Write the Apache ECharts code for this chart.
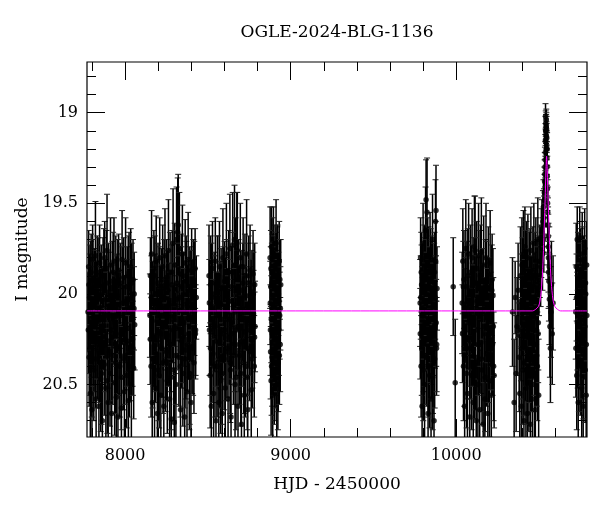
<!DOCTYPE html>
<html><head><meta charset="utf-8">
<script src="https://cdn.jsdelivr.net/npm/echarts@6/dist/echarts.min.js"></script>
<style>html,body{margin:0;padding:0;background:#fff}#c{width:600px;height:512px}</style>
</head><body><div id="c"></div>
<script>
// ---- data: [HJD-2450000, I mag, error] ----
const season1 = [[7776,20.10,0.22],[7780,19.85,0.20],[7783,20.35,0.27],[7786,20.02,0.24],[7790,20.55,0.30],[7793,19.92,0.21],[7797,20.21,0.25],[7800,20.64,0.33],[7804,19.81,0.19],[7807,20.13,0.23],[7811,20.42,0.28],[7814,19.97,0.22],[7818,20.28,0.26],[7821,19.79,0.30],[7825,20.58,0.31],[7828,20.05,0.23],[7832,19.88,0.20],[7835,20.31,0.27],[7839,20.15,0.24],[7842,20.62,0.32],[7846,19.83,0.21],[7849,20.08,0.23],[7853,20.47,0.29],[7856,19.95,0.22],[7860,20.24,0.25],[7863,20.70,0.34],[7867,19.90,0.21],[7870,20.18,0.24],[7874,20.39,0.28],[7877,19.80,0.20],[7881,20.03,0.22],[7884,20.52,0.30],[7888,19.86,0.21],[7891,19.76,0.31],[7895,20.26,0.26],[7898,20.60,0.32],[7902,19.99,0.22],[7905,20.12,0.24],[7909,20.44,0.29],[7912,19.84,0.26],[7916,20.20,0.25],[7919,20.66,0.33],[7923,19.93,0.22],[7926,20.34,0.27],[7930,20.07,0.23],[7933,19.82,0.24],[7937,20.49,0.29],[7940,20.16,0.24],[7944,19.89,0.21],[7947,20.57,0.31],[7951,20.01,0.23],[7954,20.29,0.26],[7957,20.68,0.30],[7961,19.87,0.20],[7964,20.10,0.23],[7968,20.40,0.28],[7971,19.94,0.22],[7975,20.22,0.25],[7978,20.63,0.33],[7982,19.81,0.27],[7985,20.05,0.23],[7989,20.36,0.28],[7992,19.91,0.22],[7996,20.54,0.30],[7999,20.14,0.24],[8003,19.83,0.25],[8006,20.27,0.26],[8010,20.45,0.29],[8013,19.96,0.22],[8017,20.19,0.24],[8020,20.59,0.31],[8024,19.88,0.22],[8027,20.09,0.23],[8031,20.32,0.27],[8034,19.85,0.21],[8038,20.50,0.30],[8041,20.04,0.23],[8045,20.25,0.26],[8048,19.92,0.22],[8052,20.41,0.28],[8055,20.00,0.23],[8058,20.17,0.25],
 [7778,20.20,0.24],[7782,19.95,0.22],[7788,20.30,0.26],[7792,20.08,0.23],[7795,19.88,0.21],[7799,20.40,0.28],[7802,20.15,0.24],[7806,19.92,0.22],[7809,20.26,0.25],[7816,20.05,0.23],[7820,20.36,0.27],[7823,19.98,0.22],[7830,20.22,0.25],[7837,19.90,0.21],[7844,20.33,0.27],[7851,20.00,0.23],[7858,20.44,0.28],[7865,20.10,0.24],[7872,19.86,0.22],[7879,20.28,0.26],[7886,20.12,0.24],[7893,20.48,0.29],[7900,19.94,0.22],[7907,20.32,0.27],[7914,20.06,0.23],[7921,20.24,0.25],[7928,19.88,0.22],[7935,20.14,0.24],[7942,20.38,0.28],[7949,20.02,0.23],[7956,19.92,0.22],[7963,20.30,0.26],[7970,20.12,0.24],[7977,20.46,0.29],[7984,19.96,0.22],[7991,20.20,0.25],[7998,20.34,0.27],[8005,20.04,0.23],[8012,20.26,0.25],[8019,19.90,0.22],[8026,20.40,0.28],[8033,20.10,0.24],[8040,19.94,0.22],[8047,20.30,0.26],[8054,20.08,0.23]];
const season2 = [[8150,20.12,0.23],[8153,19.90,0.21],[8157,20.40,0.28],[8160,19.78,0.24],[8164,20.60,0.32],[8167,20.05,0.23],[8171,20.25,0.26],[8174,19.86,0.21],[8178,20.52,0.30],[8181,20.00,0.22],[8185,20.33,0.27],[8188,19.82,0.25],[8192,20.15,0.24],[8195,20.66,0.34],[8199,19.94,0.22],[8202,20.21,0.25],[8206,20.45,0.29],[8209,19.80,0.22],[8213,20.08,0.23],[8216,20.56,0.31],[8220,19.97,0.22],[8223,20.30,0.27],[8227,19.85,0.23],[8230,20.18,0.24],[8234,20.62,0.32],[8237,20.02,0.23],[8241,19.79,0.26],[8244,20.37,0.28],[8248,20.11,0.24],[8251,19.91,0.21],[8255,20.48,0.29],[8258,20.23,0.25],[8262,19.76,0.28],[8265,20.06,0.23],[8269,20.58,0.31],[8272,19.88,0.22],[8276,20.28,0.26],[8279,20.69,0.33],[8283,19.95,0.22],[8286,20.14,0.24],[8290,19.72,0.30],[8293,20.42,0.28],[8297,20.71,0.30],[8300,19.84,0.23],[8304,20.19,0.25],[8307,20.50,0.30],[8311,19.70,0.29],[8314,20.03,0.23],[8318,19.66,0.30],[8321,19.62,0.28],[8325,20.35,0.27],[8328,19.75,0.31],[8332,20.09,0.24],[8335,20.64,0.33],[8339,19.89,0.22],[8342,20.26,0.26],[8346,19.78,0.27],[8349,20.44,0.29],[8353,20.00,0.23],[8356,20.16,0.24],[8360,20.68,0.34],[8363,19.83,0.24],[8367,20.31,0.27],[8370,19.93,0.22],[8374,20.54,0.30],[8377,20.07,0.23],[8381,19.81,0.26],[8384,20.22,0.25],[8388,20.46,0.29],[8391,19.96,0.22],[8395,20.13,0.24],[8398,20.60,0.32],[8402,19.87,0.23],[8405,20.29,0.26],[8409,20.04,0.23],[8412,19.92,0.22],[8416,20.38,0.28],[8419,20.10,0.24],[8423,19.86,0.22],[8426,20.20,0.25],[8430,20.02,0.23],
 [8152,20.25,0.25],[8159,20.02,0.23],[8166,20.36,0.27],[8173,20.10,0.24],[8180,19.90,0.22],[8187,20.28,0.26],[8194,20.04,0.23],[8201,20.42,0.28],[8208,19.96,0.22],[8215,20.22,0.25],[8222,20.08,0.24],[8229,20.38,0.28],[8236,19.92,0.22],[8243,20.16,0.24],[8250,20.32,0.27],[8257,19.98,0.22],[8264,20.26,0.25],[8271,20.12,0.24],[8278,20.46,0.29],[8285,19.88,0.23],[8292,20.20,0.25],[8299,20.06,0.23],[8306,20.34,0.27],[8313,19.94,0.22],[8320,20.18,0.24],[8327,20.02,0.23],[8334,20.40,0.28],[8341,19.96,0.22],[8348,20.24,0.25],[8355,20.10,0.24],[8362,20.36,0.27],[8369,19.90,0.22],[8376,20.28,0.26],[8383,20.04,0.23],[8390,20.44,0.28],[8397,19.98,0.22],[8404,20.14,0.24],[8411,20.30,0.26],[8418,19.94,0.23],[8425,20.22,0.25]];
const season3 = [[8507,19.90,0.28],[8510,20.20,0.25],[8514,20.45,0.29],[8517,19.95,0.27],[8521,20.62,0.32],[8524,20.08,0.24],[8528,19.86,0.26],[8531,20.33,0.27],[8535,20.55,0.31],[8538,20.00,0.23],[8542,20.18,0.25],[8545,19.82,0.24],[8549,20.70,0.33],[8552,20.12,0.24],[8556,20.40,0.28],[8559,19.90,0.22],[8563,20.27,0.26],[8566,20.60,0.32],[8570,19.85,0.25],[8573,20.05,0.23],[8577,20.48,0.29],[8580,19.97,0.22],[8584,20.22,0.25],[8587,20.66,0.33],[8591,19.80,0.27],[8594,20.14,0.24],[8598,20.36,0.28],[8601,19.93,0.22],[8605,20.52,0.30],[8608,20.03,0.23],[8612,19.78,0.28],[8615,20.30,0.27],[8619,20.10,0.24],[8622,20.58,0.31],[8626,19.88,0.23],[8629,20.24,0.26],[8633,19.75,0.30],[8636,20.42,0.29],[8640,20.68,0.34],[8643,19.96,0.22],[8647,20.16,0.24],[8650,19.73,0.29],[8654,20.34,0.27],[8657,20.06,0.23],[8661,19.70,0.30],[8664,20.50,0.30],[8668,19.84,0.26],[8671,20.20,0.25],[8675,19.72,0.28],[8678,19.76,0.32],[8682,20.62,0.32],[8685,19.92,0.22],[8689,20.28,0.26],[8692,20.08,0.24],[8696,19.80,0.30],[8699,20.44,0.29],[8703,20.72,0.33],[8706,19.98,0.22],[8710,20.13,0.24],[8713,19.85,0.27],[8717,20.38,0.28],[8720,20.56,0.31],[8724,19.90,0.23],[8727,20.21,0.25],[8731,20.01,0.23],[8734,19.78,0.30],[8738,20.46,0.29],[8741,20.64,0.33],[8745,19.94,0.22],[8748,20.17,0.24],[8752,20.32,0.27],[8755,19.87,0.25],[8759,20.09,0.24],[8762,20.53,0.30],[8766,19.99,0.23],[8769,20.26,0.26],[8773,19.89,0.24],[8776,20.11,0.24],[8780,20.40,0.28],[8783,19.95,0.23],[8785,20.18,0.25],
 [8509,20.05,0.24],[8516,20.30,0.26],[8523,19.94,0.22],[8530,20.16,0.24],[8537,20.40,0.28],[8544,20.02,0.23],[8551,20.26,0.25],[8558,19.90,0.22],[8565,20.12,0.24],[8572,20.36,0.27],[8579,20.06,0.23],[8586,20.44,0.28],[8593,19.96,0.22],[8600,20.20,0.25],[8607,20.32,0.27],[8614,19.92,0.22],[8621,20.14,0.24],[8628,20.04,0.23],[8635,20.38,0.28],[8642,20.22,0.25],[8649,19.88,0.22],[8656,20.28,0.26],[8663,20.10,0.24],[8670,20.46,0.29],[8677,19.98,0.22],[8684,20.18,0.24],[8691,20.34,0.27],[8698,20.02,0.23],[8705,20.26,0.25],[8712,19.94,0.22],[8719,20.14,0.24],[8726,20.40,0.28],[8733,20.08,0.23],[8740,20.30,0.26],[8747,19.90,0.22],[8754,20.20,0.25],[8761,20.04,0.23],[8768,20.36,0.27],[8775,20.00,0.23],[8782,20.24,0.25]];
const season4 = [[8876,19.80,0.28],[8878,20.20,0.25],[8880,19.96,0.22],[8882,20.48,0.30],[8884,19.74,0.22],[8886,20.10,0.23],[8888,20.35,0.27],[8890,19.88,0.21],[8892,20.56,0.31],[8894,20.02,0.22],[8896,19.78,0.26],[8898,20.26,0.25],[8900,20.14,0.24],[8902,19.92,0.21],[8904,20.42,0.28],[8906,19.84,0.22],[8908,20.06,0.23],[8910,20.30,0.26],[8912,19.72,0.24],[8914,20.18,0.24],[8916,20.50,0.29],[8918,19.98,0.22],[8920,19.90,0.27],[8922,20.22,0.25],[8925,20.38,0.27],[8928,20.04,0.23],[8931,19.82,0.22],[8934,20.12,0.24],[8937,20.28,0.26],[8940,19.95,0.25],
 [8877,20.05,0.23],[8879,20.32,0.26],[8881,19.86,0.21],[8883,20.14,0.24],[8885,20.40,0.27],[8887,19.94,0.22],[8889,20.22,0.25],[8891,20.02,0.23],[8893,19.80,0.22],[8895,20.30,0.26],[8897,20.10,0.24],[8899,19.90,0.22],[8901,20.44,0.28],[8903,20.06,0.23],[8905,20.24,0.25],[8907,19.96,0.22],[8909,20.16,0.24],[8911,20.36,0.27],[8913,19.88,0.22],[8915,20.04,0.23],[8917,20.28,0.26],[8919,20.12,0.24],[8921,19.84,0.22],[8923,20.46,0.29],[8926,20.00,0.23],[8929,20.20,0.25],[8932,20.34,0.27],[8935,19.92,0.22],[8938,20.08,0.23]];
const season5 = [[9782,20.05,0.24],[9785,19.80,0.22],[9788,20.40,0.28],[9791,19.95,0.22],[9794,20.62,0.32],[9797,20.15,0.24],[9800,19.72,0.22],[9803,20.28,0.26],[9806,19.90,0.21],[9809,20.50,0.30],[9812,20.00,0.23],[9815,19.65,0.24],[9818,19.48,0.22],[9821,20.35,0.27],[9824,19.55,0.30],[9827,20.10,0.23],[9830,20.66,0.33],[9833,19.85,0.22],[9836,20.20,0.25],[9839,20.45,0.29],[9842,19.78,0.23],[9845,20.08,0.23],[9848,20.58,0.31],[9851,19.92,0.21],[9854,20.25,0.25],[9857,19.70,0.25],[9860,20.38,0.28],[9863,20.03,0.23],[9866,20.70,0.32],[9869,19.88,0.22],[9872,20.17,0.24],[9875,19.60,0.23],[9878,19.54,0.25],[9881,20.30,0.26],[9884,19.97,0.23],
 [9783,20.22,0.25],[9786,20.02,0.23],[9789,19.88,0.22],[9792,20.30,0.26],[9795,20.08,0.23],[9798,19.94,0.22],[9801,20.42,0.28],[9804,20.12,0.24],[9807,19.84,0.22],[9810,20.26,0.25],[9813,20.06,0.23],[9816,19.92,0.22],[9819,20.34,0.27],[9822,20.00,0.23],[9825,20.18,0.24],[9828,19.80,0.22],[9831,20.40,0.28],[9834,20.04,0.23],[9837,19.96,0.22],[9840,20.24,0.25],[9843,20.10,0.24],[9846,19.86,0.22],[9849,20.32,0.26],[9852,20.14,0.24],[9855,19.90,0.22],[9858,20.46,0.29],[9861,20.06,0.23],[9864,20.20,0.25],[9867,19.94,0.22],[9870,20.36,0.27],[9873,20.02,0.23],[9876,19.82,0.22],[9879,20.16,0.24],[9882,20.28,0.26]];
const season6 = [[9982,19.96,0.27],[9994,20.49,0.35],[10036,20.05,0.28],[10040,19.82,0.29],[10044,20.40,0.30],[10047,19.92,0.27],[10051,20.62,0.33],[10054,20.12,0.26],[10058,19.75,0.27],[10061,20.30,0.28],[10065,19.96,0.25],[10068,20.55,0.32],[10072,20.02,0.25],[10075,19.78,0.28],[10079,20.24,0.27],[10082,20.68,0.34],[10086,19.88,0.26],[10089,20.15,0.26],[10093,20.45,0.30],[10096,19.80,0.27],[10100,20.08,0.25],[10103,20.60,0.33],[10107,19.94,0.25],[10110,19.74,0.28],[10114,19.76,0.30],[10117,20.35,0.29],[10121,20.70,0.34],[10124,19.86,0.26],[10128,20.20,0.27],[10131,20.50,0.31],[10135,19.79,0.29],[10138,20.04,0.25],[10142,20.64,0.33],[10145,19.90,0.25],[10149,20.27,0.28],[10152,19.77,0.30],[10156,20.42,0.30],[10159,20.10,0.26],[10163,20.72,0.34],[10166,19.84,0.27],[10170,20.18,0.27],[10173,20.58,0.32],[10177,19.95,0.25],[10180,19.80,0.30],[10184,20.33,0.29],[10187,20.06,0.26],[10191,20.66,0.33],[10194,19.89,0.26],[10198,20.22,0.27],[10201,20.48,0.31],[10205,19.83,0.29],[10208,20.14,0.26],[10212,20.56,0.32],[10215,19.98,0.25],[10219,20.28,0.28],[10222,20.01,0.26],[10226,20.40,0.30],[10229,20.45,0.29],
 [10038,20.22,0.27],[10043,19.96,0.25],[10049,20.34,0.28],[10056,20.06,0.26],[10063,20.44,0.30],[10070,19.90,0.26],[10077,20.16,0.26],[10084,20.30,0.28],[10091,19.98,0.25],[10098,20.24,0.27],[10105,20.10,0.26],[10112,20.40,0.29],[10119,19.94,0.25],[10126,20.04,0.25],[10133,20.28,0.28],[10140,20.14,0.26],[10147,19.88,0.26],[10154,20.36,0.29],[10161,20.00,0.25],[10168,20.22,0.27],[10175,20.46,0.30],[10182,19.96,0.25],[10189,20.12,0.26],[10196,20.32,0.28],[10203,20.06,0.26],[10210,20.26,0.27],[10217,19.92,0.25],[10224,20.18,0.27]];
const season7 = [[10340,20.10,0.30],[10350,20.60,0.35],[10356,20.02,0.20],[10362,20.44,0.32],[10368,20.18,0.27],[10374,19.98,0.26],[10380,20.35,0.30],[10384,20.55,0.33],[10388,19.90,0.27],[10391,20.20,0.28],[10394,20.62,0.33],[10397,19.84,0.26],[10400,20.08,0.26],[10403,20.42,0.30],[10406,19.78,0.24],[10409,20.70,0.34],[10412,20.00,0.25],[10415,19.74,0.22],[10418,20.30,0.29],[10421,20.52,0.31],[10424,19.86,0.26],[10427,20.14,0.26],[10430,20.66,0.33],[10433,19.80,0.24],[10436,20.24,0.27],[10439,20.46,0.30],[10442,19.92,0.26],[10445,20.06,0.26],[10448,20.72,0.34],[10451,19.76,0.24],[10454,20.36,0.29],[10457,20.12,0.26],[10460,20.58,0.32],[10463,19.88,0.25],[10466,20.20,0.27],[10469,19.72,0.22],[10472,20.50,0.31],[10475,20.02,0.25],[10478,20.64,0.33],[10481,19.82,0.24],[10484,20.28,0.28],[10487,19.95,0.25],[10490,20.40,0.30],[10493,19.70,0.23],[10496,20.16,0.26],[10498,20.56,0.31],
 [10392,20.04,0.26],[10396,20.30,0.28],[10401,19.94,0.25],[10405,20.16,0.26],[10410,20.38,0.29],[10414,20.06,0.25],[10419,19.90,0.25],[10423,20.24,0.27],[10428,20.42,0.30],[10432,20.00,0.25],[10437,20.12,0.26],[10441,20.32,0.28],[10446,19.88,0.24],[10450,20.20,0.27],[10455,20.04,0.25],[10459,20.36,0.29],[10464,19.96,0.25],[10468,20.14,0.26],[10473,20.28,0.28],[10477,19.90,0.24],[10482,20.08,0.25],[10486,20.34,0.28],[10491,19.98,0.24],[10495,20.22,0.27],
 [10500,19.90,0.22],[10505,19.82,0.20],[10510,19.85,0.22],[10514,19.72,0.19],[10518,19.66,0.18],[10521,19.78,0.20],[10524,19.60,0.17],[10527,19.52,0.15],[10529,19.70,0.18],[10530,19.58,0.16],[10531,19.62,0.16],[10532,19.44,0.14],[10533,19.48,0.14],[10534,19.38,0.12],[10535,19.34,0.12],[10536,19.30,0.11],[10537,19.26,0.10],[10538,19.22,0.10],[10539,19.15,0.09],[10539.5,19.02,0.07],[10540,19.10,0.08],[10541,19.06,0.07],[10541.5,19.16,0.08],[10542,19.12,0.08],[10542.5,19.10,0.07],[10543,19.08,0.07],[10544,19.04,0.06],[10544.5,19.07,0.07],[10545,19.13,0.08],[10545.5,19.20,0.09],[10546,19.09,0.07],[10546.5,19.14,0.08],[10547,19.18,0.08],[10548,19.25,0.09],[10548.5,19.30,0.10],[10549,19.20,0.09],[10550,19.35,0.11],[10551,19.42,0.12],[10552,19.50,0.13],[10553,19.55,0.14],[10554,19.62,0.15],[10555,19.68,0.16],[10556,19.74,0.18],[10557,19.80,0.19],[10558,19.88,0.20],[10560,19.93,0.22],[10562,19.85,0.22],[10563,20.03,0.25],[10566,20.18,0.28],[10569,20.30,0.30],[10572,20.10,0.25],[10575,19.95,0.24],[10580,20.22,0.28],[10585,20.05,0.26]];
const season8 = [[10722,20.10,0.26],[10725,19.85,0.24],[10728,20.45,0.30],[10731,19.70,0.18],[10734,20.25,0.27],[10737,20.60,0.32],[10740,19.95,0.24],[10743,20.15,0.26],[10746,19.69,0.17],[10749,20.38,0.29],[10752,19.88,0.24],[10755,20.05,0.25],[10758,20.52,0.31],[10761,19.78,0.23],[10764,20.30,0.28],[10767,20.62,0.32],[10770,19.92,0.24],[10773,20.20,0.27],[10776,19.75,0.22],[10779,20.42,0.29],[10782,20.00,0.25],[10785,20.56,0.31],[10788,19.84,0.24],
 [10723,20.30,0.27],[10727,20.02,0.24],[10732,20.16,0.26],[10736,19.90,0.24],[10741,20.36,0.29],[10745,20.08,0.25],[10750,19.96,0.24],[10754,20.24,0.27],[10759,20.10,0.25],[10763,19.86,0.23],[10768,20.40,0.29],[10772,20.04,0.25],[10777,20.18,0.26],[10781,19.94,0.24],[10786,20.28,0.27],[10789,20.12,0.25]];

// model curve
const modelHJD = [7770,10460,10480,10496,10506,10514,10521,10527,10532,10537,10542,10546,10550,10555,10560,10565,10571,10578,10586,10596,10611,10631,10790];
const modelMag = [20.094,20.094,20.085,20.07,20.04,19.98,19.89,19.76,19.62,19.48,19.32,19.24,19.32,19.48,19.62,19.76,19.89,19.98,20.04,20.07,20.085,20.094,20.094];

// axes / ticks
const xMajor = [8000, 9000, 10000];
const xTickLabels = ['8000', '9000', '10000'];
const xMinor = [7800,8000,8200,8400,8600,8800,9000,9200,9400,9600,9800,10000,10200,10400,10600];
const yMajor = [19, 19.5, 20, 20.5];
const yTickLabels = ['19', '19.5', '20', '20.5'];
const yMinor = [18.8,18.9,19,19.1,19.2,19.3,19.4,19.5,19.6,19.7,19.8,19.9,20,20.1,20.2,20.3,20.4,20.5,20.6,20.7];

const points = [].concat(season1, season2, season3, season4, season5, season6, season7, season8);
const model = modelHJD.map((x, i) => [x, modelMag[i]]);

const FONT = 'DejaVu Serif';
const XMIN = 7770, XMAX = 10790, YMIN = 18.72, YMAX = 20.79;

function xAx(pos, ticks, len, withLabels) {
  return {
    type: 'value', min: XMIN, max: XMAX, position: pos,
    axisLine: { show: false }, splitLine: { show: false },
    axisTick: { show: true, inside: true, length: len, customValues: ticks, lineStyle: { color: '#000', width: 1 } },
    axisLabel: withLabels ? {
      show: true, customValues: xMajor, margin: 11, color: '#000', fontFamily: FONT, fontSize: 16,
      formatter: v => { const i = xMajor.indexOf(v); return i >= 0 ? xTickLabels[i] : ''; }
    } : { show: false },
    name: withLabels ? 'HJD - 2450000' : '', nameLocation: 'middle', nameGap: 39,
    nameTextStyle: { color: '#000', fontFamily: FONT, fontSize: 17 }
  };
}
function yAx(pos, ticks, len, withLabels) {
  return {
    type: 'value', min: YMIN, max: YMAX, inverse: true, position: pos,
    axisLine: { show: false }, splitLine: { show: false },
    axisTick: { show: true, inside: true, length: len, customValues: ticks, lineStyle: { color: '#000', width: 1 } },
    axisLabel: withLabels ? {
      show: true, customValues: yMajor, margin: 9, color: '#000', fontFamily: FONT, fontSize: 16,
      formatter: v => { const i = yMajor.findIndex(t => Math.abs(t - v) < 1e-6); return i >= 0 ? yTickLabels[i] : ''; }
    } : { show: false },
    name: withLabels ? 'I magnitude' : '', nameLocation: 'middle', nameGap: 55, nameRotate: 90,
    nameTextStyle: { color: '#000', fontFamily: FONT, fontSize: 17 }
  };
}

const chart = echarts.init(document.getElementById('c'), null, { renderer: 'canvas' });
chart.setOption({
  animation: false,
  backgroundColor: '#fff',
  grid: { left: 87, right: 13, top: 62, bottom: 75, show: true, borderColor: '#000', borderWidth: 1.2, backgroundColor: 'transparent' },
  graphic: [{ type: 'text', x: 337, y: 33, style: { text: 'OGLE-2024-BLG-1136', fontFamily: FONT, fontSize: 17, fill: '#000', align: 'center', verticalAlign: 'middle' } }],
  xAxis: [xAx('bottom', xMajor, 18, true), xAx('bottom', xMinor, 9, false), xAx('top', xMajor, 18, false), xAx('top', xMinor, 9, false)],
  yAxis: [yAx('left', yMajor, 18, true), yAx('left', yMinor, 9, false), yAx('right', yMajor, 18, false), yAx('right', yMinor, 9, false)],
  series: [
    {
      type: 'custom', xAxisIndex: 0, yAxisIndex: 0, clip: true, data: points, z: 2,
      encode: { x: 0, y: 1 },
      renderItem: (params, api) => {
        const x = api.value(0), y = api.value(1), e = api.value(2);
        const a = api.coord([x, y - e]), b = api.coord([x, y + e]);
        const hw = 3;
        const st = { stroke: '#000', lineWidth: 1.5 };
        const cs = { stroke: '#222', lineWidth: 1 };
        return { type: 'group', children: [
          { type: 'line', shape: { x1: a[0], y1: a[1], x2: b[0], y2: b[1] }, style: st },
          { type: 'line', shape: { x1: a[0] - hw, y1: a[1], x2: a[0] + hw, y2: a[1] }, style: cs },
          { type: 'line', shape: { x1: b[0] - hw, y1: b[1], x2: b[0] + hw, y2: b[1] }, style: cs }
        ] };
      }
    },
    {
      type: 'scatter', xAxisIndex: 0, yAxisIndex: 0, data: points.map(p => [p[0], p[1]]),
      symbol: 'circle', symbolSize: 5.5, itemStyle: { color: '#000' }, z: 3, clip: true
    },
    {
      type: 'line', xAxisIndex: 0, yAxisIndex: 0, data: model, showSymbol: false, z: 4, clip: true,
      lineStyle: { color: '#ff00ff', width: 1 }, smooth: 0.3
    }
  ]
});
</script></body></html>
